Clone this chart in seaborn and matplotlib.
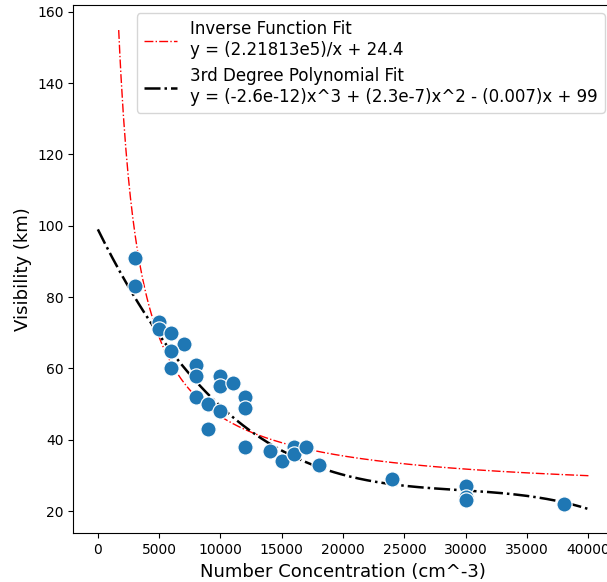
import numpy as np
import pandas as pd
import matplotlib
matplotlib.use("Agg")
import matplotlib.pyplot as plt
import seaborn as sns

# data
concentration = [3000, 3000, 5000, 5000, 6000, 7000, 6000, 6000, 8000, 8000, 10000, 10000,
                 11000, 12000, 12000, 8000, 9000, 10000, 9000, 12000, 14000, 15000, 16000,
                 16000, 17000, 18000, 24000, 30000, 30000, 30000, 38000]
visibility = [91, 83, 73, 71, 70, 67, 65, 60, 61, 58, 58, 55,
              56, 52, 49, 52, 50, 48, 43, 38, 37, 34, 38,
              36, 38, 33, 29, 27, 24, 23, 22]

# fit parameters from the legend
inv_a, inv_b = 2.21813e5, 24.4
poly_coef = [-2.6e-12, 2.3e-7, -0.007, 99]
inv_label = "Inverse Function Fit\ny = (2.21813e5)/x + 24.4"
poly_label = "3rd Degree Polynomial Fit\ny = (-2.6e-12)x^3 + (2.3e-7)x^2 - (0.007)x + 99"

x_inv = np.linspace(1700, 40000, 400)
y_inv = inv_a / x_inv + inv_b
x_poly = np.linspace(0, 40000, 400)
y_poly = np.polyval(poly_coef, x_poly)

df = pd.DataFrame({"c": concentration, "v": visibility})

fig = plt.figure(figsize=(6.07, 5.82), dpi=100)
ax = fig.add_axes([0.1208, 0.0837, 0.889, 0.9077])

sns.lineplot(x=x_inv, y=y_inv, ax=ax, color="red", linestyle="-.", linewidth=1,
             label=inv_label)
sns.lineplot(x=x_poly, y=y_poly, ax=ax, color="black", linestyle="-.", linewidth=1.8,
             label=poly_label)
sns.scatterplot(data=df, x="c", y="v", ax=ax, s=120, color="#1f77b4", zorder=3)

ax.set_xlim(-2000, 42000)
ax.set_ylim(13.8, 161.9)
ax.set_xticks(np.arange(0, 40001, 5000))
ax.set_yticks(np.arange(20, 161, 20))
ax.tick_params(labelsize=10)
ax.set_xlabel("Number Concentration (cm^-3)", fontsize=13)
ax.set_ylabel("Visibility (km)", fontsize=13)
ax.legend(loc="upper right", fontsize=12, handlelength=2.0)

fig.savefig("out.png", dpi=100)
